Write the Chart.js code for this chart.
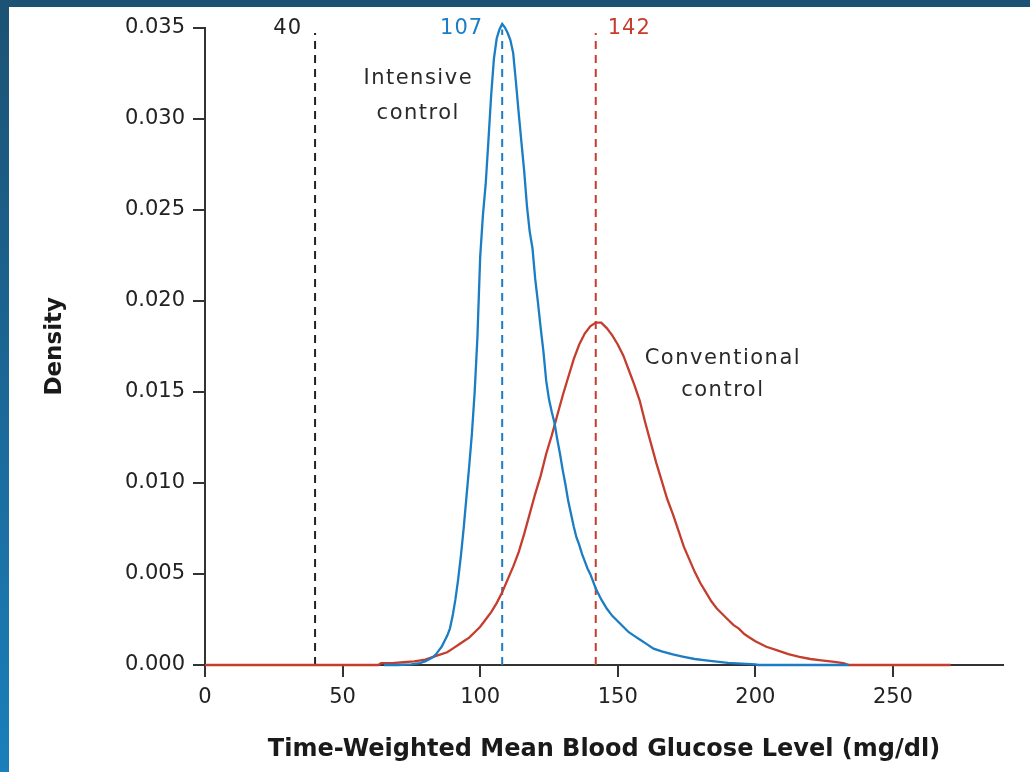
<!DOCTYPE html>
<html>
<head>
<meta charset="utf-8">
<script src="https://cdn.jsdelivr.net/npm/chart.js@4.4.1/dist/chart.umd.min.js"></script>
<style>
  html, body { margin: 0; padding: 0; }
  body {
    width: 1030px; height: 772px; overflow: hidden; position: relative;
    background: linear-gradient(180deg, #1c5273 0%, #1b6593 45%, #1a7fbb 100%);
  }
  #panel { position: absolute; left: 9px; top: 7px; width: 1021px; height: 765px; background: #fff; }
</style>
</head>
<body>
<div id="panel"><canvas id="chart" width="1021" height="765"></canvas></div>
<script>
// intensive control (blue)
const intensiveGlucose = [65, 70, 75, 78, 80, 82, 83, 84, 85, 86, 87, 88, 89, 90, 91, 92, 93, 94, 95, 96, 97, 98, 99,
  100, 101, 102, 103, 104, 105, 106, 107, 108, 109, 110, 111, 112, 113, 114, 115, 116, 117, 118, 119,
  120, 121, 122, 123, 124, 125, 126, 127, 128, 129, 130, 131, 132, 133, 134, 135, 136, 137, 138, 139,
  140, 142, 144, 146, 148, 150, 152, 154, 156, 158, 160, 163, 166, 170, 174, 178, 182, 186, 190, 195, 200, 201, 234];
const intensiveDensity = [0, 0, 0.00003, 0.0001, 0.0002, 0.00035, 0.00045, 0.0006, 0.0008, 0.001, 0.0013, 0.0016, 0.002, 0.0027, 0.0036, 0.0047, 0.006, 0.0075, 0.0092, 0.0109, 0.0127, 0.015, 0.018,
  0.0224, 0.0247, 0.0264, 0.0288, 0.0313, 0.0333, 0.0344, 0.0349, 0.0352, 0.035, 0.0347, 0.0343, 0.0336, 0.032, 0.0303, 0.0287, 0.0271, 0.0252, 0.0238, 0.0229,
  0.0212, 0.0199, 0.0185, 0.0172, 0.0156, 0.0146, 0.0139, 0.0133, 0.0124, 0.0116, 0.0107, 0.0099, 0.009, 0.0083, 0.0076, 0.007, 0.0066, 0.0061, 0.0057, 0.0053,
  0.005, 0.0042, 0.0036, 0.0031, 0.0027, 0.0024, 0.0021, 0.0018, 0.0016, 0.0014, 0.0012, 0.0009, 0.00075, 0.00058, 0.00045, 0.00033, 0.00025, 0.00018, 0.00012, 0.00007, 0.00003, 0, 0];

// conventional control (red)
const conventionalGlucose = [0, 63, 64, 68, 72, 76, 80, 84, 88, 90, 92, 94, 96, 98, 100, 102, 104, 106, 108, 110, 112, 114, 116, 118,
  120, 122, 124, 126, 128, 130, 132, 134, 136, 138, 140, 142, 144, 146, 148, 150, 152, 154, 156, 158,
  160, 162, 164, 166, 168, 170, 172, 174, 176, 178, 180, 182, 184, 186, 188, 190, 192, 194, 196, 198,
  200, 204, 208, 212, 216, 220, 224, 228, 232, 234, 271];
const conventionalDensity = [0, 0, 0.0001, 0.0001, 0.00015, 0.0002, 0.0003, 0.0005, 0.0007, 0.0009, 0.0011, 0.0013, 0.0015, 0.0018, 0.0021, 0.0025, 0.0029, 0.0034, 0.004, 0.0047, 0.0054, 0.0062, 0.0072, 0.0083,
  0.0094, 0.0104, 0.0116, 0.0126, 0.0137, 0.0148, 0.0158, 0.0168, 0.0176, 0.0182, 0.0186, 0.0188, 0.0188, 0.0185, 0.0181, 0.0176, 0.017, 0.0162, 0.0154, 0.0145,
  0.0133, 0.0122, 0.0111, 0.0101, 0.0091, 0.0083, 0.0074, 0.0065, 0.0058, 0.0051, 0.0045, 0.004, 0.0035, 0.0031, 0.0028, 0.0025, 0.0022, 0.002, 0.0017, 0.0015,
  0.0013, 0.001, 0.0008, 0.0006, 0.00045, 0.00033, 0.00025, 0.00018, 0.0001, 0, 0];

// dashed reference lines
const markerGlucose = [40, 108, 142];
const markerTop = [0.0347, 0.0349, 0.0347];
const markerLabels = ['40', '107', '142'];
const markerColors = ['#222222', '#1b7dc3', '#c43d2d'];

const xTicks = [0, 50, 100, 150, 200, 250];
const yTicks = [0, 0.005, 0.01, 0.015, 0.02, 0.025, 0.03, 0.035];

const BLUE = '#1b7dc3';
const RED = '#c43d2d';
const AXIS = '#333333';
const FONT = "'DejaVu Sans', sans-serif";

const toPoints = (xs, ys) => xs.map((v, i) => ({ x: v, y: ys[i] }));

const datasets = [
    { data: toPoints(intensiveGlucose, intensiveDensity), borderColor: BLUE, borderWidth: 2.3 },
    { data: toPoints(conventionalGlucose, conventionalDensity), borderColor: RED, borderWidth: 2.3 }
];
markerGlucose.forEach((g, i) => {
    datasets.push({
        data: [{ x: g, y: 0 }, { x: g, y: markerTop[i] }],
        borderColor: markerColors[i],
        borderWidth: 2,
        borderDash: [8, 6]
    });
});
datasets.forEach(ds => { ds.pointRadius = 0; ds.tension = 0; ds.fill = false; ds.clip = false; });

// text labels in the plot
const annotations = {
    id: 'annotations',
    afterDatasetsDraw(chart) {
        const { ctx, scales: { x, y } } = chart;
        ctx.save();
        ctx.letterSpacing = '1px';
        ctx.font = `21px ${FONT}`;
        ctx.textBaseline = 'middle';
        const offsets = [-13, -19, 12];
        const aligns = ['right', 'right', 'left'];
        markerGlucose.forEach((g, i) => {
            ctx.fillStyle = markerColors[i];
            ctx.textAlign = aligns[i];
            ctx.fillText(markerLabels[i], x.getPixelForValue(g) + offsets[i], y.getPixelForValue(0.035) + 1);
        });
        ctx.fillStyle = '#2a2a2a';
        ctx.textAlign = 'center';
        ctx.letterSpacing = '1.5px';
        ctx.fillText('Intensive', x.getPixelForValue(77.5), y.getPixelForValue(0.0322));
        ctx.fillText('control', x.getPixelForValue(77.5), y.getPixelForValue(0.0303));
        ctx.fillText('Conventional', x.getPixelForValue(188.2), y.getPixelForValue(0.01683));
        ctx.fillText('control', x.getPixelForValue(188.2), y.getPixelForValue(0.01507));
        ctx.restore();
    }
};

new Chart(document.getElementById('chart').getContext('2d'), {
    type: 'line',
    data: { datasets },
    options: {
        responsive: false,
        animation: false,
        layout: { padding: { top: 19, right: 27, bottom: 0, left: 0 } },
        plugins: { legend: { display: false }, tooltip: { enabled: false } },
        scales: {
            x: {
                type: 'linear', min: 0, max: 290,
                afterBuildTicks: s => { s.ticks = xTicks.map(v => ({ value: v })); },
                afterFit: s => { s.height = 107; },
                grid: { drawOnChartArea: false, drawTicks: true, tickLength: 12, color: AXIS, lineWidth: 2 },
                border: { color: AXIS, width: 2 },
                ticks: { font: { family: FONT, size: 21 }, color: '#222', padding: 8, maxRotation: 0 },
                title: {
                    display: true, text: 'Time-Weighted Mean Blood Glucose Level (mg/dl)',
                    font: { family: FONT, size: 24, weight: 'bold' }, color: '#1a1a1a',
                    padding: { top: 0, bottom: 8 }
                }
            },
            y: {
                type: 'linear', min: 0, max: 0.035,
                afterBuildTicks: s => { s.ticks = yTicks.map(v => ({ value: v })); },
                afterFit: s => { s.width = 196; },
                grid: { drawOnChartArea: false, drawTicks: true, tickLength: 12, color: AXIS, lineWidth: 2 },
                border: { color: AXIS, width: 2 },
                ticks: { font: { family: FONT, size: 21 }, color: '#222', padding: 8, callback: v => v.toFixed(3) },
                title: {
                    display: true, text: 'Density',
                    font: { family: FONT, size: 23, weight: 'bold' }, color: '#1a1a1a',
                    padding: { top: 32, bottom: 0 }
                }
            }
        }
    },
    plugins: [annotations]
});
</script>
</body>
</html>
